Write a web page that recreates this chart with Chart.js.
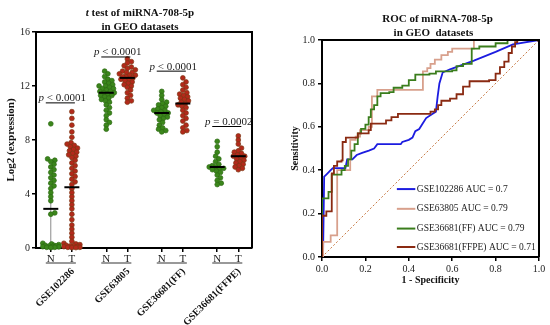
<!DOCTYPE html>
<html lang="en">
<head>
<meta charset="UTF-8">
<title>miRNA-708-5p in GEO datasets</title>
<script src="https://cdn.jsdelivr.net/npm/chart.js"></script>
<style>
  body { margin: 0; background: #fff; }
  #wrap { position: relative; width: 550px; height: 325px; }
  canvas { position: absolute; top: 0; }
  #dots { left: 0; }
  #roc { left: 275px; }
</style>
</head>
<body>
<div id="wrap">
  <canvas id="dots" width="275" height="325"></canvas>
  <canvas id="roc" width="275" height="325"></canvas>
</div>
<script>
// ---- left panel: log2 expression per dataset (N = normal, T = tumour)
const datasets = ['GSE102286', 'GSE63805', 'GSE36681(FF)', 'GSE36681(FFPE)'];
const colLabels = ['N', 'T', 'N', 'T', 'N', 'T', 'N', 'T'];

const n102286 = [9.2, 6.6, 6.5, 6.4, 6.2, 6.0, 5.8, 5.6, 5.4, 5.2, 5.0, 4.8, 4.6, 4.4, 4.1, 3.8, 3.5, 2.6, 2.5,
  0.35, 0.3, 0.25, 0.2, 0.2, 0.15, 0.15, 0.1, 0.1, 0.08, 0.05, 0.05, 0.03];
const t102286 = [10.1, 9.6, 9.1, 8.6, 8.2, 7.8, 7.7, 7.6, 7.5, 7.4, 7.3, 7.2, 7.1, 7.0, 6.9, 6.8, 6.7, 6.5, 6.3,
  6.1, 5.9, 5.7, 5.5, 5.3, 5.1, 4.9, 4.7, 4.4, 4.1, 3.8, 3.5, 3.2, 2.9, 2.5, 2.1, 1.7, 1.4, 1.1, 0.8, 0.5,
  0.35, 0.3, 0.25, 0.2, 0.15, 0.15, 0.1, 0.1, 0.05, 0.05, 0.03, 0.03];
const n63805 = [13.1, 12.9, 12.7, 12.5, 12.4, 12.3, 12.2, 12.1, 12.0, 12.0, 11.9, 11.8, 11.8, 11.7, 11.6, 11.6,
  11.5, 11.5, 11.4, 11.3, 11.3, 11.2, 11.1, 11.0, 10.9, 10.8, 10.6, 10.4, 10.2, 10.0, 9.8, 9.5, 9.3, 9.1, 8.8];
const t63805 = [14.0, 13.8, 13.7, 13.5, 13.4, 13.3, 13.2, 13.1, 13.0, 13.0, 12.9, 12.8, 12.8, 12.7, 12.7, 12.6,
  12.5, 12.5, 12.4, 12.3, 12.2, 12.1, 12.0, 11.9, 11.7, 11.5, 11.3, 11.1, 10.9, 10.8];
const n36681ff = [11.6, 11.3, 11.0, 10.8, 10.7, 10.6, 10.5, 10.4, 10.3, 10.2, 10.2, 10.1, 10.0, 10.0, 9.9, 9.8,
  9.7, 9.6, 9.5, 9.3, 9.1, 8.9, 8.8, 8.7, 8.6];
const t36681ff = [12.6, 12.3, 12.1, 11.9, 11.7, 11.5, 11.4, 11.3, 11.2, 11.1, 11.0, 10.9, 10.8, 10.7, 10.6, 10.5,
  10.4, 10.2, 10.0, 9.8, 9.6, 9.4, 9.1, 8.9, 8.7, 8.6];
const n36681ffpe = [7.9, 7.5, 7.1, 6.8, 6.6, 6.4, 6.2, 6.1, 6.0, 6.0, 5.9, 5.9, 5.8, 5.7, 5.6, 5.4, 5.2, 5.0, 4.8, 4.7];
const t36681ffpe = [8.3, 8.0, 7.7, 7.4, 7.2, 7.1, 7.0, 6.9, 6.8, 6.8, 6.7, 6.6, 6.5, 6.4, 6.3, 6.2, 6.1, 6.0, 5.9, 5.8];

const colMeans = [2.9, 4.5, 11.5, 12.6, 10.0, 10.7, 6.0, 6.8];
const colSds = [2.9, 3.1, 1.0, 0.8, 0.7, 1.0, 0.7, 0.6];
const pTexts = ['< 0.0001', '< 0.0001', '< 0.0001', '= 0.0002'];
const pHeights = [10.75, 14.15, 13.1, 9.0];

// ---- right panel: ROC curves
const fpr102286 = [0, 0.005, 0.01, 0.02, 0.04, 0.05, 0.108, 0.116, 0.14, 0.16, 0.185, 0.216, 0.24, 0.255, 0.363,
  0.37, 0.40, 0.417, 0.43, 0.448, 0.464, 0.48, 0.51, 0.525, 0.533, 0.541, 0.556, 0.59, 0.70, 0.80, 0.88, 1.0];
const tpr102286 = [0, 0.02, 0.37, 0.38, 0.40, 0.41, 0.41, 0.45, 0.45, 0.47, 0.48, 0.49, 0.50, 0.52, 0.52,
  0.53, 0.54, 0.55, 0.58, 0.59, 0.615, 0.64, 0.66, 0.67, 0.74, 0.80, 0.85, 0.865, 0.905, 0.945, 0.98, 1.0];
const fpr63805 = [0, 0.005, 0.04, 0.07, 0.13, 0.155, 0.175, 0.215, 0.23, 0.255, 0.465, 0.485, 0.50, 0.52, 0.55,
  0.58, 0.60, 0.70, 1.0];
const tpr63805 = [0, 0.07, 0.10, 0.40, 0.54, 0.555, 0.585, 0.60, 0.74, 0.77, 0.855, 0.87, 0.89, 0.91, 0.93,
  0.945, 0.96, 1.0, 1.0];
const fpr36681ff = [0, 0.0, 0.03, 0.045, 0.09, 0.105, 0.12, 0.135, 0.15, 0.165, 0.18, 0.2, 0.215, 0.225, 0.24,
  0.255, 0.27, 0.31, 0.33, 0.37, 0.40, 0.43, 0.495, 0.525, 0.60, 0.62, 0.65, 0.69, 0.725, 0.80, 0.855, 1.0];
const tpr36681ff = [0, 0.27, 0.30, 0.38, 0.40, 0.42, 0.45, 0.49, 0.52, 0.57, 0.59, 0.61, 0.645, 0.68, 0.70,
  0.74, 0.755, 0.76, 0.78, 0.79, 0.815, 0.84, 0.845, 0.855, 0.86, 0.88, 0.89, 0.96, 0.97, 0.985, 1.0, 1.0];
const fpr36681ffpe = [0, 0, 0.02, 0.045, 0.055, 0.07, 0.09, 0.095, 0.11, 0.165, 0.215, 0.225, 0.295, 0.32, 0.35,
  0.50, 0.52, 0.535, 0.55, 0.59, 0.62, 0.65, 0.68, 0.77, 0.80, 0.82, 0.84, 0.86, 0.875, 0.89, 0.90, 1.0];
const tpr36681ffpe = [0, 0.19, 0.21, 0.385, 0.42, 0.44, 0.445, 0.53, 0.55, 0.57, 0.585, 0.615, 0.63, 0.645, 0.66,
  0.67, 0.68, 0.70, 0.72, 0.73, 0.75, 0.785, 0.81, 0.815, 0.845, 0.875, 0.90, 0.94, 0.97, 0.99, 1.0, 1.0];
const rocLabels = ['GSE102286 AUC = 0.7', 'GSE63805 AUC = 0.79', 'GSE36681(FF) AUC = 0.79', 'GSE36681(FFPE) AUC = 0.71'];
const rocColors = ['#1c1ce0', '#d8a08c', '#3a7d1c', '#8a2a12'];

const SERIF = "'Liberation Serif', 'Times New Roman', serif";

// column positions on the linear x axis of the dot plot
const X_MIN = -0.8, X_MAX = 10.88;
const colPos = [0, 1.14, 3, 4.14, 6, 7.14, 9, 10.14];
const PX_X = 216 / (X_MAX - X_MIN), PX_Y = 216 / 16, DOT = 3.9;

// simple beeswarm so the dots of one column don't sit on each other
function swarm(vals, center) {
  const placed = [];
  const xs = new Array(vals.length);
  const order = vals.map((v, i) => i).sort((a, b) => vals[a] - vals[b]);
  order.forEach(i => {
    const py = vals[i] * PX_Y;
    let best = 0, bestD = -1;
    for (let k = 0; k <= 20; k++) {
      const off = (k % 2 ? 1 : -1) * Math.ceil(k / 2) * 0.8;
      let minD = Infinity;
      placed.forEach(p => { minD = Math.min(minD, Math.hypot(p.x - off, p.y - py)); });
      if (minD >= DOT) { best = off; break; }
      if (minD > bestD) { bestD = minD; best = off; }
    }
    placed.push({ x: best, y: py });
    xs[i] = center + best / PX_X;
  });
  return xs;
}

const columns = [n102286, t102286, n63805, t63805, n36681ff, t36681ff, n36681ffpe, t36681ffpe];
const dotSets = columns.map((vals, c) => {
  const xs = swarm(vals, colPos[c]);
  const normal = c % 2 === 0;
  return {
    data: vals.map((v, i) => ({ x: xs[i], y: v })),
    backgroundColor: normal ? '#3b861b' : '#b3291b',
    borderColor: normal ? '#2c6a12' : '#7c3612',
    borderWidth: 0.7,
    pointRadius: 2.4,
    clip: false
  };
});

const dotDecor = {
  id: 'dotDecor',
  beforeDatasetsDraw(chart) {
    const { ctx, scales: { x, y } } = chart;
    ctx.save();
    ctx.strokeStyle = '#8a8a8a';
    ctx.lineWidth = 1;
    colMeans.forEach((m, c) => {
      const px = x.getPixelForValue(colPos[c]);
      ctx.beginPath();
      ctx.moveTo(px, y.getPixelForValue(Math.max(0, m - colSds[c])));
      ctx.lineTo(px, y.getPixelForValue(m + colSds[c]));
      ctx.stroke();
    });
    ctx.restore();
  },
  afterDatasetsDraw(chart) {
    const { ctx, chartArea: a, scales: { x, y } } = chart;
    ctx.save();
    // mean bars
    ctx.strokeStyle = '#000';
    ctx.lineWidth = 2;
    colMeans.forEach((m, c) => {
      const px = x.getPixelForValue(colPos[c]), py = y.getPixelForValue(m);
      ctx.beginPath();
      ctx.moveTo(px - 7.5, py);
      ctx.lineTo(px + 7.5, py);
      ctx.stroke();
    });
    // significance brackets
    ctx.lineWidth = 1;
    ctx.fillStyle = '#222';
    ctx.textBaseline = 'alphabetic';
    pHeights.forEach((h, g) => {
      const x1 = x.getPixelForValue(colPos[2 * g]) - 5, x2 = x.getPixelForValue(colPos[2 * g + 1]) + 3;
      const py = y.getPixelForValue(h);
      ctx.beginPath();
      ctx.moveTo(x1, py);
      ctx.lineTo(x2, py);
      ctx.stroke();
      ctx.font = 'italic 11px ' + SERIF;
      const wp = ctx.measureText('p ').width;
      ctx.font = '11px ' + SERIF;
      const wr = ctx.measureText(pTexts[g]).width;
      const sx = (x1 + x2) / 2 + 2 - (wp + wr) / 2;
      ctx.font = 'italic 11px ' + SERIF;
      ctx.fillText('p', sx, py - 1.5);
      ctx.font = '11px ' + SERIF;
      ctx.fillText(pTexts[g], sx + wp, py - 1.5);
    });
    // frame top/right
    ctx.lineWidth = 2;
    ctx.beginPath();
    ctx.moveTo(a.left, a.top);
    ctx.lineTo(a.right, a.top);
    ctx.lineTo(a.right, a.bottom);
    ctx.stroke();
    ctx.restore();
  },
  afterDraw(chart) {
    const { ctx, scales: { x } } = chart;
    ctx.save();
    // title
    ctx.fillStyle = '#111';
    ctx.textBaseline = 'middle';
    ctx.font = 'bold italic 11px ' + SERIF;
    const wt = ctx.measureText('t').width;
    ctx.font = 'bold 11px ' + SERIF;
    const rest = ' test of miRNA-708-5p';
    const wr = ctx.measureText(rest).width;
    const cx = 140;
    ctx.font = 'bold italic 11px ' + SERIF;
    ctx.fillText('t', cx - (wt + wr) / 2, 13);
    ctx.font = 'bold 11px ' + SERIF;
    ctx.fillText(rest, cx - (wt + wr) / 2 + wt, 13);
    ctx.textAlign = 'center';
    ctx.fillText('in GEO datasets', cx, 27);
    // group underline + rotated dataset names
    datasets.forEach((name, g) => {
      const xn = x.getPixelForValue(colPos[2 * g]), xt = x.getPixelForValue(colPos[2 * g + 1]);
      ctx.strokeStyle = '#777';
      ctx.lineWidth = 1.5;
      ctx.beginPath();
      ctx.moveTo(xn - 5, 263);
      ctx.lineTo(xt + 4, 263);
      ctx.stroke();
      ctx.save();
      ctx.translate(xt + 1, 270);
      ctx.rotate(-Math.PI / 4);
      ctx.textAlign = 'right';
      ctx.textBaseline = 'middle';
      ctx.font = 'bold 10px ' + SERIF;
      ctx.fillStyle = '#111';
      ctx.fillText(name, 0, 0);
      ctx.restore();
    });
    ctx.restore();
  }
};

new Chart(document.getElementById('dots'), {
  type: 'scatter',
  data: { datasets: dotSets },
  plugins: [dotDecor],
  options: {
    responsive: false,
    animation: false,
    layout: { padding: { top: 32, right: 23, left: 0, bottom: 0 } },
    plugins: { legend: { display: false }, tooltip: { enabled: false } },
    scales: {
      x: {
        type: 'linear', min: X_MIN, max: X_MAX,
        afterBuildTicks: s => { s.ticks = colPos.map(v => ({ value: v })); },
        afterFit: s => { s.height = 77; },
        border: { color: '#000', width: 2 },
        grid: { drawOnChartArea: false, color: '#000', lineWidth: 1.5, tickLength: 4 },
        ticks: { autoSkip: false, maxRotation: 0, padding: 1, color: '#222',
          font: { family: SERIF, size: 11 }, callback: (v, i) => colLabels[i] }
      },
      y: {
        min: 0, max: 16,
        afterFit: s => { s.width = 36; },
        border: { color: '#000', width: 2 },
        grid: { drawOnChartArea: false, color: '#000', lineWidth: 1.5, tickLength: 4 },
        ticks: { stepSize: 4, padding: 2, color: '#222', font: { family: SERIF, size: 10 } },
        title: { display: true, text: 'Log2 (expression)', color: '#111',
          font: { family: SERIF, size: 11, weight: 'bold' }, padding: { top: 5, bottom: 0 } }
      }
    }
  }
});

// ---- ROC chart (ROC steps go right first, then up)
const rocSets = [
  [fpr102286, tpr102286, false, 4],
  [fpr63805, tpr63805, 'before', 3],
  [fpr36681ff, tpr36681ff, 'before', 2],
  [fpr36681ffpe, tpr36681ffpe, 'before', 1]
].map(([fx, ty, stepped, order], i) => ({
  label: rocLabels[i],
  data: fx.map((v, j) => ({ x: v, y: ty[j] })),
  showLine: true,
  stepped: stepped,
  borderColor: rocColors[i],
  borderWidth: 1.8,
  pointRadius: 0,
  order: order
}));
rocSets.push({
  label: 'reference',
  data: [{ x: 0, y: 0 }, { x: 1, y: 1 }],
  showLine: true,
  borderColor: '#c77a45',
  borderWidth: 1,
  borderDash: [2, 2],
  pointRadius: 0,
  order: 5
});

const rocDecor = {
  id: 'rocDecor',
  afterDatasetsDraw(chart) {
    const { ctx, chartArea: a, scales: { x, y } } = chart;
    ctx.save();
    ctx.strokeStyle = '#000';
    ctx.lineWidth = 2;
    ctx.beginPath();
    ctx.moveTo(a.left, a.top);
    ctx.lineTo(a.right, a.top);
    ctx.lineTo(a.right, a.bottom);
    ctx.stroke();
    // legend inside the plot
    const rows = [0.313, 0.222, 0.131, 0.046];
    ctx.font = '9.5px ' + SERIF;
    ctx.textBaseline = 'middle';
    ctx.fillStyle = '#222';
    rocLabels.forEach((lab, i) => {
      const py = y.getPixelForValue(rows[i]);
      ctx.strokeStyle = rocColors[i];
      ctx.lineWidth = 2;
      ctx.beginPath();
      ctx.moveTo(x.getPixelForValue(0.345), py);
      ctx.lineTo(x.getPixelForValue(0.43), py);
      ctx.stroke();
      ctx.fillText(lab, x.getPixelForValue(0.437), py);
    });
    // title
    ctx.font = 'bold 11px ' + SERIF;
    ctx.fillStyle = '#111';
    ctx.textAlign = 'center';
    const cx = (a.left + a.right) / 2;
    ctx.fillText('ROC of miRNA-708-5p', cx + 7, 19);
    ctx.fillText('in GEO  datasets', cx + 3, 33);
    ctx.restore();
  }
};

new Chart(document.getElementById('roc'), {
  type: 'scatter',
  data: { datasets: rocSets },
  plugins: [rocDecor],
  options: {
    responsive: false,
    animation: false,
    layout: { padding: { top: 40, right: 11, left: 0, bottom: 0 } },
    plugins: { legend: { display: false }, tooltip: { enabled: false } },
    scales: {
      x: {
        min: 0, max: 1,
        afterFit: s => { s.height = 68; },
        border: { color: '#000', width: 2 },
        grid: { drawOnChartArea: false, color: '#000', lineWidth: 1.5, tickLength: 4 },
        ticks: { stepSize: 0.2, padding: 2, color: '#222', font: { family: SERIF, size: 10 },
          callback: v => v.toFixed(1) },
        title: { display: true, text: '1 - Specificity', color: '#111',
          font: { family: SERIF, size: 10, weight: 'bold' }, padding: { top: 0, bottom: 39 } }
      },
      y: {
        min: 0, max: 1,
        afterFit: s => { s.width = 47; },
        border: { color: '#000', width: 2 },
        grid: { drawOnChartArea: false, color: '#000', lineWidth: 1.5, tickLength: 4 },
        ticks: { stepSize: 0.2, padding: 3, color: '#222', font: { family: SERIF, size: 10 },
          callback: v => v.toFixed(1) },
        title: { display: true, text: 'Sensitivity', color: '#111',
          font: { family: SERIF, size: 10, weight: 'bold' }, padding: { top: 14, bottom: 0 } }
      }
    }
  }
});
</script>
</body>
</html>
